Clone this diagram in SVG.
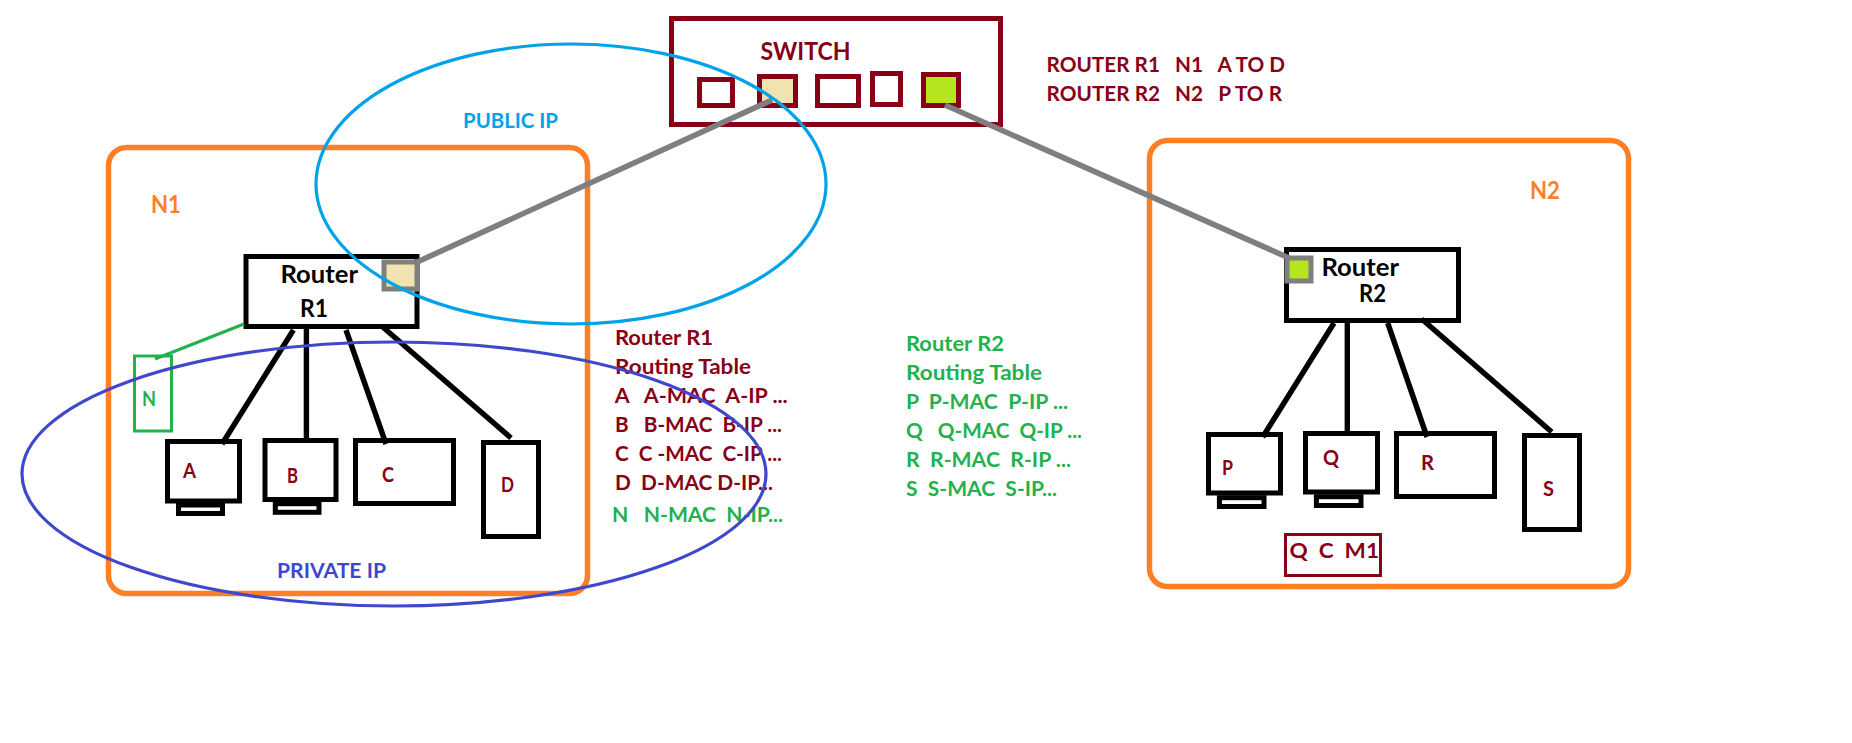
<svg xmlns="http://www.w3.org/2000/svg" width="1852" height="743" viewBox="0 0 1852 743">
<style>
text{font-family:Lato,"Open Sans","Liberation Sans",sans-serif;font-weight:700;white-space:pre;transform:translateX(-1px)}
.t{font-size:21px}
.b{font-size:25.5px}
.m{fill:#880015}
.g{fill:#22b14c}
.o{fill:#ff7f27}
.k{fill:#000}
.dev{fill:#fff;stroke:#000;stroke-width:5}
.net{fill:none;stroke:#ff7f27;stroke-width:5.5}
.sw{fill:#fff;stroke:#880015;stroke-width:5}
.port{stroke:#7f7f7f;stroke-width:5}
.link{fill:none;stroke:#000;stroke-width:5.4}
.up{fill:none;stroke:#7f7f7f;stroke-width:5.6}
.cream{fill:#efe4b0}
.lime{fill:#b5e61d}
</style>
<rect width="1852" height="743" fill="#fff"/>
<g id="network-n1">
<rect class="net" x="108.5" y="147.5" width="479" height="446" rx="18"/>
<text class="b o" x="152" y="212.5" textLength="30" lengthAdjust="spacingAndGlyphs">N1</text>
</g>
<g id="network-n2">
<rect class="net" x="1149.5" y="140.5" width="479" height="446" rx="18"/>
<text class="b o" x="1531" y="199" textLength="30" lengthAdjust="spacingAndGlyphs">N2</text>
</g>
<g id="switch">
<rect class="sw" x="671.5" y="18.5" width="329" height="106" fill="#fff"/>
<rect class="sw" x="699.5" y="79.5" width="33" height="26"/>
<rect class="sw cream" x="759.5" y="76.5" width="36" height="29"/>
<rect class="sw" x="817.5" y="76.5" width="41" height="29"/>
<rect class="sw" x="872.5" y="73.5" width="28" height="31"/>
<rect class="sw lime" x="923.5" y="74.5" width="35" height="31"/>
<text class="b m" x="761.5" y="60" textLength="90" lengthAdjust="spacingAndGlyphs">SWITCH</text>
</g>
<g id="router-r1">
<rect class="dev" x="246" y="256.5" width="171" height="70"/>
<rect class="port cream" x="384" y="262" width="33" height="27"/>
<text class="b k" x="281.5" y="282.5" textLength="77.5" lengthAdjust="spacingAndGlyphs">Router</text>
<text class="b k" x="301" y="316.5" textLength="28" lengthAdjust="spacingAndGlyphs">R1</text>
</g>
<g id="router-r2">
<rect class="dev" x="1286.5" y="249.5" width="172" height="71"/>
<rect class="port lime" x="1287" y="258" width="24" height="23"/>
<text class="b k" x="1322.5" y="275.5" textLength="77.5" lengthAdjust="spacingAndGlyphs">Router</text>
<text class="b k" x="1360" y="302" textLength="27" lengthAdjust="spacingAndGlyphs">R2</text>
</g>
<g id="node-n">
<rect x="134.5" y="356" width="37" height="75" fill="#fff" stroke="#22b14c" stroke-width="3"/>
<text class="t g" x="143" y="405.5" textLength="14" lengthAdjust="spacingAndGlyphs">N</text>
</g>
<g id="node-a">
<rect class="dev" x="178.5" y="505" width="44" height="8.5"/>
<rect class="dev" x="167.5" y="441.5" width="72" height="59.5"/>
<text class="t m" x="184" y="478" textLength="13" lengthAdjust="spacingAndGlyphs">A</text>
</g>
<g id="node-b">
<rect class="dev" x="275.3" y="503.7" width="43.7" height="8.6"/>
<rect class="dev" x="265" y="440.5" width="71" height="59"/>
<text class="t m" x="288" y="482.5" textLength="11" lengthAdjust="spacingAndGlyphs">B</text>
</g>
<g id="node-c">
<rect class="dev" x="355.5" y="440.5" width="98" height="63"/>
<text class="t m" x="383" y="482" textLength="12" lengthAdjust="spacingAndGlyphs">C</text>
</g>
<g id="node-d">
<rect class="dev" x="483.5" y="442.5" width="55" height="94"/>
<text class="t m" x="502" y="492" textLength="13" lengthAdjust="spacingAndGlyphs">D</text>
</g>
<g id="node-p">
<rect class="dev" x="1219.4" y="497.7" width="44.6" height="8.8"/>
<rect class="dev" x="1208.5" y="434.5" width="72" height="58.5"/>
<text class="t m" x="1223" y="475" textLength="11" lengthAdjust="spacingAndGlyphs">P</text>
</g>
<g id="node-q">
<rect class="dev" x="1316.4" y="496.7" width="44.6" height="8.8"/>
<rect class="dev" x="1305.5" y="433.5" width="72" height="58.5"/>
<text class="t m" x="1324" y="465" textLength="16" lengthAdjust="spacingAndGlyphs">Q</text>
</g>
<g id="node-r">
<rect class="dev" x="1396.5" y="433.5" width="98" height="63"/>
<text class="t m" x="1422" y="470" textLength="13" lengthAdjust="spacingAndGlyphs">R</text>
</g>
<g id="node-s">
<rect class="dev" x="1524.5" y="435.5" width="55" height="94"/>
<text class="t m" x="1544" y="496" textLength="11" lengthAdjust="spacingAndGlyphs">S</text>
</g>
<g id="cache-entry">
<rect x="1285.5" y="534.5" width="95" height="41" fill="none" stroke="#880015" stroke-width="3"/>
<text class="t m" x="1290.5" y="557.5" textLength="89.5" lengthAdjust="spacingAndGlyphs">Q  C  M1</text>
</g>
<g id="connectors">
<line class="up" x1="415" y1="263" x2="772" y2="100"/>
<line class="up" x1="945" y1="105" x2="1289" y2="258"/>
<line x1="244" y1="324" x2="155" y2="359" stroke="#22b14c" stroke-width="3"/>
<line class="link" x1="293.4" y1="330" x2="222" y2="444"/>
<line class="link" x1="306.4" y1="324" x2="306.4" y2="438"/>
<line class="link" x1="346" y1="330" x2="386" y2="444"/>
<line class="link" x1="381.6" y1="326" x2="511" y2="438"/>
<line class="link" x1="1334" y1="323" x2="1262.7" y2="437"/>
<line class="link" x1="1347.3" y1="318" x2="1347.3" y2="432"/>
<line class="link" x1="1387.7" y1="323" x2="1427" y2="437"/>
<line class="link" x1="1421.7" y1="319" x2="1551.7" y2="432"/>
</g>
<g id="summary">
<text class="t m" x="1047.6" y="72" textLength="238.4" lengthAdjust="spacingAndGlyphs">ROUTER R1   N1   A TO D</text>
<text class="t m" x="1047.6" y="101" textLength="235.4" lengthAdjust="spacingAndGlyphs">ROUTER R2   N2   P TO R</text>
</g>
<g id="table-r1">
<text class="t m" x="616" y="345" textLength="98" lengthAdjust="spacingAndGlyphs">Router R1</text>
<text class="t m" x="616" y="374" textLength="136" lengthAdjust="spacingAndGlyphs">Routing Table</text>
<text class="t m" x="615.7" y="403" textLength="173" lengthAdjust="spacingAndGlyphs">A   A-MAC  A-IP ...</text>
<text class="t m" x="616" y="432" textLength="167" lengthAdjust="spacingAndGlyphs">B   B-MAC  B-IP ...</text>
<text class="t m" x="616" y="461" textLength="167" lengthAdjust="spacingAndGlyphs">C  C -MAC  C-IP ...</text>
<text class="t m" x="616" y="490" textLength="158" lengthAdjust="spacingAndGlyphs">D  D-MAC D-IP...</text>
<text class="t g" x="613" y="521.5" textLength="171" lengthAdjust="spacingAndGlyphs">N   N-MAC  N-IP...</text>
</g>
<g id="table-r2">
<text class="t g" x="907" y="351" textLength="98" lengthAdjust="spacingAndGlyphs">Router R2</text>
<text class="t g" x="907" y="380" textLength="136" lengthAdjust="spacingAndGlyphs">Routing Table</text>
<text class="t g" x="907" y="409" textLength="162" lengthAdjust="spacingAndGlyphs">P  P-MAC  P-IP ...</text>
<text class="t g" x="907" y="438" textLength="176" lengthAdjust="spacingAndGlyphs">Q   Q-MAC  Q-IP ...</text>
<text class="t g" x="907" y="467" textLength="165" lengthAdjust="spacingAndGlyphs">R  R-MAC  R-IP ...</text>
<text class="t g" x="907" y="496" textLength="151" lengthAdjust="spacingAndGlyphs">S  S-MAC  S-IP...</text>
</g>
<g id="zone-public">
<ellipse cx="571" cy="184" rx="255" ry="140" fill="none" stroke="#00a2e8" stroke-width="3.2"/>
<text class="t" fill="#00a2e8" x="464" y="128" textLength="95" lengthAdjust="spacingAndGlyphs">PUBLIC IP</text>
</g>
<g id="zone-private">
<ellipse cx="394" cy="474" rx="372" ry="132" fill="none" stroke="#3f48cc" stroke-width="3.2"/>
<text class="t" fill="#3f48cc" x="278" y="577.5" textLength="109" lengthAdjust="spacingAndGlyphs">PRIVATE IP</text>
</g>
</svg>
